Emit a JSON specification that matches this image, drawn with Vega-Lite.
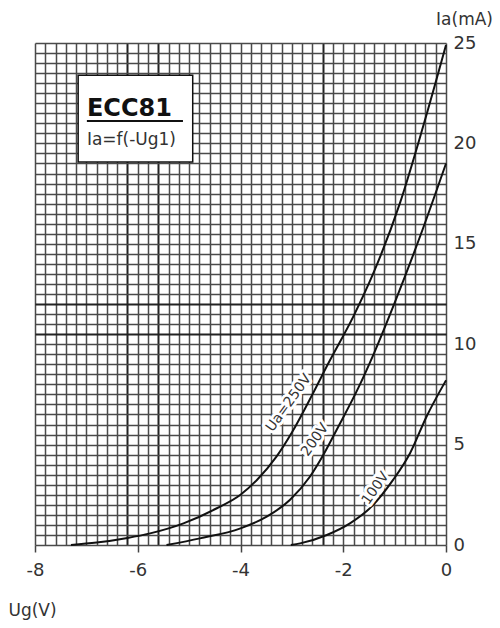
{
  "$schema": "https://vega.github.io/schema/vega-lite/v6.json",
  "width": 411,
  "height": 502,
  "autosize": "none",
  "padding": {"left": 35, "top": 43, "right": 54, "bottom": 83},
  "background": "white",
  "data": {
    "values": [
      {"ua": "250V", "ug": -7.3, "ia": 0},
      {"ua": "250V", "ug": -6.8, "ia": 0.12},
      {"ua": "250V", "ug": -6.2, "ia": 0.35},
      {"ua": "250V", "ug": -5.76, "ia": 0.58},
      {"ua": "250V", "ug": -5.11, "ia": 1.08},
      {"ua": "250V", "ug": -4.46, "ia": 1.83},
      {"ua": "250V", "ug": -4.0, "ia": 2.5},
      {"ua": "250V", "ug": -3.68, "ia": 3.24},
      {"ua": "250V", "ug": -3.3, "ia": 4.4},
      {"ua": "250V", "ug": -3.0, "ia": 5.6},
      {"ua": "250V", "ug": -2.6, "ia": 7.5},
      {"ua": "250V", "ug": -2.3, "ia": 9.0},
      {"ua": "250V", "ug": -1.8, "ia": 11.4},
      {"ua": "250V", "ug": -1.42, "ia": 13.5},
      {"ua": "250V", "ug": -0.9, "ia": 17.0},
      {"ua": "250V", "ug": -0.45, "ia": 20.8},
      {"ua": "250V", "ug": 0, "ia": 24.9},
      {"ua": "200V", "ug": -5.44, "ia": 0},
      {"ua": "200V", "ug": -4.79, "ia": 0.33},
      {"ua": "200V", "ug": -4.0, "ia": 0.83},
      {"ua": "200V", "ug": -3.49, "ia": 1.41},
      {"ua": "200V", "ug": -3.04, "ia": 2.24},
      {"ua": "200V", "ug": -2.65, "ia": 3.4},
      {"ua": "200V", "ug": -2.37, "ia": 4.57},
      {"ua": "200V", "ug": -2.13, "ia": 5.73},
      {"ua": "200V", "ug": -1.7, "ia": 7.86},
      {"ua": "200V", "ug": -1.4, "ia": 9.56},
      {"ua": "200V", "ug": -1.0, "ia": 12.06},
      {"ua": "200V", "ug": -0.5, "ia": 15.4},
      {"ua": "200V", "ug": 0, "ia": 19.0},
      {"ua": "100V", "ug": -3.02, "ia": 0},
      {"ua": "100V", "ug": -2.84, "ia": 0.08},
      {"ua": "100V", "ug": -2.32, "ia": 0.5},
      {"ua": "100V", "ug": -1.87, "ia": 1.08},
      {"ua": "100V", "ug": -1.45, "ia": 1.91},
      {"ua": "100V", "ug": -1.03, "ia": 3.24},
      {"ua": "100V", "ug": -0.7, "ia": 4.57},
      {"ua": "100V", "ug": -0.38, "ia": 6.39},
      {"ua": "100V", "ug": 0, "ia": 8.2}
    ]
  },
  "encoding": {
    "x": {
      "field": "ug",
      "type": "quantitative",
      "scale": {"domain": [-8, 0], "nice": false, "zero": false},
      "axis": {
        "title": "Ug(V)",
        "titleAngle": 0,
        "titleX": -3,
        "titleY": 65,
        "titleAlign": "center",
        "titleBaseline": "middle",
        "titleFontSize": 17,
        "titleFontWeight": "normal",
        "titleColor": "#333",
        "values": [-8, -7.8, -7.6, -7.4, -7.2, -7, -6.8, -6.6, -6.4, -6.2, -6, -5.8, -5.6, -5.4, -5.2, -5, -4.8, -4.6, -4.4, -4.2, -4, -3.8, -3.6, -3.4, -3.2, -3, -2.8, -2.6, -2.4, -2.2, -2, -1.8, -1.6, -1.4, -1.2, -1, -0.8, -0.6, -0.4, -0.2, 0],
        "labelExpr": "abs(datum.value / 2 - round(datum.value / 2)) < 0.001 ? '' + round(datum.value) : ''",
        "labelOverlap": false,
        "labelFlush": false,
        "labelFontSize": 18,
        "labelColor": "#333",
        "labelPadding": 9,
        "domain": false,
        "tickSize": 7,
        "tickWidth": 1.5,
        "tickColor": {"condition": {"test": "abs(datum.value / 2 - round(datum.value / 2)) < 0.001", "value": "#444"}, "value": "transparent"},
        "grid": true,
        "gridColor": {"condition": {"test": "abs(datum.value + 2.4) < 0.01 || abs(datum.value + 5.6) < 0.01 || abs(datum.value + 6.2) < 0.01", "value": "#222"}, "value": "#4a4a4a"},
        "gridWidth": {"condition": {"test": "abs(datum.value + 2.4) < 0.01 || abs(datum.value + 5.6) < 0.01 || abs(datum.value + 6.2) < 0.01", "value": 2}, "value": 1.5},
        "gridOpacity": 1
      }
    },
    "y": {
      "field": "ia",
      "type": "quantitative",
      "scale": {"domain": [0, 25], "nice": false},
      "axis": {
        "orient": "right",
        "title": "Ia(mA)",
        "titleAngle": 0,
        "titleX": 18,
        "titleY": -24,
        "titleAlign": "center",
        "titleBaseline": "middle",
        "titleFontSize": 17,
        "titleFontWeight": "normal",
        "titleColor": "#333",
        "values": [0, 0.5, 1, 1.5, 2, 2.5, 3, 3.5, 4, 4.5, 5, 5.5, 6, 6.5, 7, 7.5, 8, 8.5, 9, 9.5, 10, 10.5, 11, 11.5, 12, 12.5, 13, 13.5, 14, 14.5, 15, 15.5, 16, 16.5, 17, 17.5, 18, 18.5, 19, 19.5, 20, 20.5, 21, 21.5, 22, 22.5, 23, 23.5, 24, 24.5, 25],
        "labelExpr": "abs(datum.value / 5 - round(datum.value / 5)) < 0.001 ? '' + round(datum.value) : ''",
        "labelOverlap": false,
        "labelFlush": false,
        "labelFontSize": 18,
        "labelColor": "#333",
        "labelPadding": 7,
        "labelAlign": "left",
        "labelBaseline": "middle",
        "domain": false,
        "ticks": false,
        "grid": true,
        "gridColor": {"condition": {"test": "abs(datum.value - 12) < 0.01 || abs(datum.value - 10.5) < 0.01", "value": "#222"}, "value": "#4a4a4a"},
        "gridWidth": {"condition": {"test": "abs(datum.value - 12) < 0.01 || abs(datum.value - 10.5) < 0.01", "value": 2}, "value": 1.5},
        "gridOpacity": 1
      }
    }
  },
  "layer": [
    {
      "mark": {"type": "line", "interpolate": "monotone", "color": "#111", "strokeWidth": 2},
      "encoding": {"detail": {"field": "ua", "type": "nominal"}}
    },
    {
      "data": {
        "values": [
          {"label": "Ua=250V", "ug": -3.06, "ia": 7.07},
          {"label": "200V", "ug": -2.55, "ia": 5.23},
          {"label": "100V", "ug": -1.37, "ia": 2.82}
        ]
      },
      "mark": {"type": "text", "align": "center", "baseline": "middle", "font": "DejaVu Sans", "fontSize": 14, "fill": "white", "stroke": "white", "strokeWidth": 6, "strokeJoin": "round"},
      "encoding": {
        "text": {"field": "label"},
        "angle": {"field": "label", "type": "nominal", "scale": {"domain": ["Ua=250V", "200V", "100V"], "range": [306, 305, 313]}, "legend": null}
      }
    },
    {
      "data": {
        "values": [
          {"label": "Ua=250V", "ug": -3.06, "ia": 7.07},
          {"label": "200V", "ug": -2.55, "ia": 5.23},
          {"label": "100V", "ug": -1.37, "ia": 2.82}
        ]
      },
      "mark": {"type": "text", "align": "center", "baseline": "middle", "font": "DejaVu Sans", "fontSize": 14, "fill": "#333"},
      "encoding": {
        "text": {"field": "label"},
        "angle": {"field": "label", "type": "nominal", "scale": {"domain": ["Ua=250V", "200V", "100V"], "range": [306, 305, 313]}, "legend": null}
      }
    },
    {
      "data": {"values": [{"ug": -7.16, "ug_end": -4.93, "ia": 23.4, "ia_end": 19.07}]},
      "mark": {"type": "rect", "fill": "white", "stroke": "#111", "strokeWidth": 1.5},
      "encoding": {
        "x2": {"field": "ug_end"},
        "y2": {"field": "ia_end"}
      }
    },
    {
      "data": {"values": [{"note": "ECC81", "ug": -6.99, "ia": 21.36}]},
      "mark": {"type": "text", "align": "left", "baseline": "alphabetic", "font": "DejaVu Sans", "fontSize": 24, "fontWeight": "bold", "fill": "#111"},
      "encoding": {
        "text": {"field": "note"}
      }
    },
    {
      "data": {"values": [{"ug": -6.99, "ug_end": -5.12, "ia": 21.12}]},
      "mark": {"type": "rule", "color": "#111", "strokeWidth": 2},
      "encoding": {
        "x2": {"field": "ug_end"}
      }
    },
    {
      "data": {"values": [{"note": "Ia=f(-Ug1)", "ug": -6.99, "ia": 19.92}]},
      "mark": {"type": "text", "align": "left", "baseline": "alphabetic", "font": "DejaVu Sans", "fontSize": 17, "fill": "#333"},
      "encoding": {
        "text": {"field": "note"}
      }
    }
  ],
  "config": {
    "font": "DejaVu Sans",
    "view": {"stroke": null},
    "axis": {"labelFont": "DejaVu Sans", "titleFont": "DejaVu Sans"}
  }
}
